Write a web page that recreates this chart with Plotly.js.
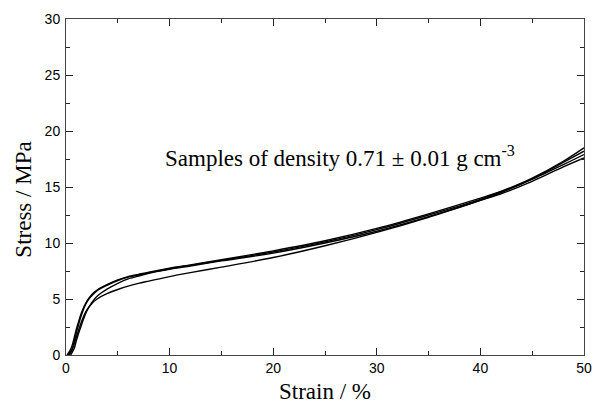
<!DOCTYPE html>
<html>
<head>
<meta charset="utf-8">
<script src="https://cdn.plot.ly/plotly-3.0.1.min.js"></script>
<style>html,body{margin:0;padding:0;background:#fff;}#chart{width:594px;height:411px;}</style>
</head>
<body>
<div id="chart"></div>
<script>
// Strain (%) and stress (MPa) for four samples
const strain1 = [0.1, 0.5, 1.0, 1.5, 2.0, 2.5, 3, 4, 5, 6, 7, 8, 10, 12, 15, 20, 25, 30, 35, 40, 42, 45, 48, 50];
const stress1 = [0, 0.6, 2.3, 3.8, 4.8, 5.4, 5.8, 6.3, 6.7, 7.0, 7.2, 7.4, 7.75, 8.05, 8.5, 9.3, 10.2, 11.3, 12.6, 14.0, 14.6, 15.7, 17.0, 17.9];

const strain2 = [0.2, 0.6, 1.0, 1.5, 2.0, 2.5, 3, 4, 5, 6, 7, 8, 10, 12, 15, 20, 25, 30, 35, 40, 42, 45, 48, 50];
const stress2 = [0, 0.5, 2.0, 3.6, 4.7, 5.3, 5.75, 6.25, 6.65, 6.95, 7.15, 7.35, 7.7, 8.0, 8.45, 9.2, 10.1, 11.2, 12.5, 13.9, 14.6, 15.8, 17.3, 18.5];

const strain3 = [0.45, 0.8, 1.0, 1.5, 2.0, 2.5, 3, 4, 5, 6, 7, 8, 10, 12, 15, 20, 25, 30, 35, 40, 42, 45, 48, 50];
const stress3 = [0, 0.6, 1.3, 2.7, 3.9, 4.7, 5.25, 5.9, 6.4, 6.8, 7.05, 7.3, 7.65, 7.95, 8.4, 9.1, 10.0, 11.05, 12.35, 13.8, 14.5, 15.7, 17.2, 18.2];

const strain4 = [0.3, 0.5, 1.0, 1.5, 2.0, 2.5, 3, 4, 5, 6, 7, 8, 10, 12, 15, 20, 25, 30, 35, 40, 42, 45, 48, 50];
const stress4 = [0, 0.3, 1.6, 3.0, 4.0, 4.6, 5.0, 5.5, 5.85, 6.15, 6.4, 6.6, 7.0, 7.35, 7.85, 8.7, 9.75, 10.95, 12.3, 13.8, 14.4, 15.5, 16.8, 17.6];

const xTitle = 'Strain / %';
const yTitle = 'Stress / MPa';
const noteText = 'Samples of density 0.71 \u00b1 0.01 g cm<sup>-3</sup>';

const serif = '"Liberation Serif", "Times New Roman", serif';
const sans = '"Liberation Sans", Arial, Helvetica, sans-serif';

const series = [[strain1, stress1], [strain2, stress2], [strain3, stress3], [strain4, stress4]];
const traces = series.map(s => ({
  x: s[0], y: s[1], type: 'scatter', mode: 'lines',
  line: {color: '#000', width: 1.4, shape: 'spline', smoothing: 0.8},
  hoverinfo: 'skip', showlegend: false
}));

const axisCommon = {
  showgrid: false, zeroline: false, showline: true, linecolor: '#444', linewidth: 1,
  mirror: 'ticks', ticks: 'inside', ticklen: 7, tickwidth: 1, tickcolor: '#222',
  tickfont: {family: sans, size: 14, color: '#000'}
};

const layout = {
  width: 594, height: 411,
  margin: {l: 66, r: 10, t: 19, b: 56, pad: 0},
  paper_bgcolor: '#fff', plot_bgcolor: '#fff',
  xaxis: Object.assign({}, axisCommon, {
    range: [0, 50], tickvals: [0, 10, 20, 30, 40, 50], ticktext: ['0','10','20','30','40','50'],
    minor: {tickvals: [5, 15, 25, 35, 45], ticklen: 4, tickcolor: '#222', ticks: 'inside'},
    title: {text: xTitle, font: {family: serif, size: 23, color: '#000'}, standoff: 8}
  }),
  yaxis: Object.assign({}, axisCommon, {
    range: [0, 30], tickvals: [0, 5, 10, 15, 20, 25, 30], ticktext: ['0','5','10','15','20','25','30'],
    minor: {tickvals: [2.5, 7.5, 12.5, 17.5, 22.5, 27.5], ticklen: 4, tickcolor: '#222', ticks: 'inside'},
    ticklabelstandoff: 2
  }),
  annotations: [
    {x: 26.4, y: 17.7, xref: 'x', yref: 'y', text: noteText, showarrow: false,
     xanchor: 'center', yanchor: 'middle', font: {family: serif, size: 23, color: '#000'}},
    {x: -0.082, y: 0.461, xref: 'paper', yref: 'paper', text: yTitle, showarrow: false, textangle: -90,
     xanchor: 'center', yanchor: 'middle', font: {family: serif, size: 23, color: '#000'}}
  ]
};

Plotly.newPlot('chart', traces, layout, {staticPlot: true, displayModeBar: false});
</script>
</body>
</html>
